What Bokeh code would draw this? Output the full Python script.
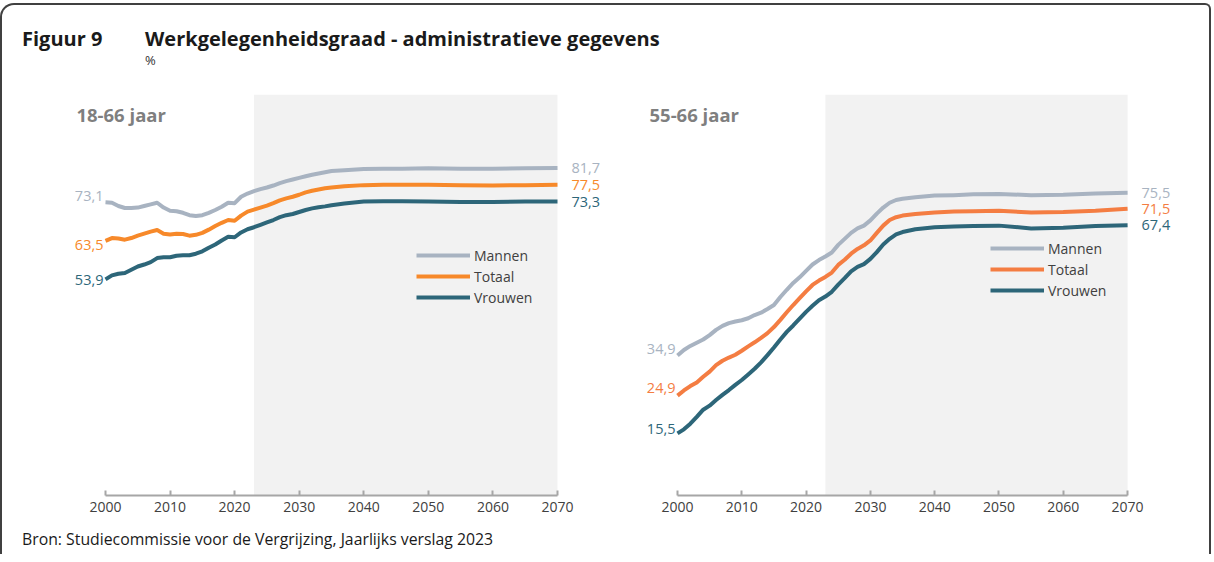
from bokeh.plotting import figure
from bokeh.models import (ColumnDataSource, LabelSet, Label, BoxAnnotation, Range1d,
                          Legend, LegendItem, Div, FixedTicker)
from bokeh.core.properties import value
from bokeh.layouts import column, row
from bokeh.embed import file_html
from bokeh.resources import INLINE

# ---------------- data ----------------
years = [2000, 2001, 2002, 2003, 2004, 2005, 2006, 2007, 2008, 2009,
         2010, 2011, 2012, 2013, 2014, 2015, 2016, 2017, 2018, 2019,
         2020, 2021, 2022, 2023, 2024, 2025, 2026, 2027, 2028, 2029,
         2030, 2031, 2032, 2033, 2034, 2035, 2037, 2040, 2043, 2046,
         2050, 2055, 2060, 2065, 2070]

# 18-66 jaar
l_mannen = [73.1, 73.0, 72.2, 71.7, 71.7, 71.8, 72.2, 72.6, 73.0, 71.8,
            71.0, 70.9, 70.5, 69.9, 69.7, 69.9, 70.5, 71.2, 72.0, 73.0,
            72.9, 74.5, 75.3, 75.9, 76.4, 76.8, 77.3, 77.9, 78.4, 78.8,
            79.2, 79.6, 80.0, 80.3, 80.6, 80.9, 81.1, 81.4, 81.5, 81.5,
            81.6, 81.5, 81.5, 81.6, 81.7]
l_totaal = [63.5, 64.2, 64.1, 63.8, 64.2, 64.8, 65.3, 65.8, 66.2, 65.3,
            65.1, 65.3, 65.2, 64.8, 65.0, 65.5, 66.3, 67.2, 68.0, 68.7,
            68.5, 69.8, 70.8, 71.3, 71.8, 72.3, 72.9, 73.6, 74.1, 74.5,
            75.0, 75.6, 76.0, 76.3, 76.6, 76.8, 77.1, 77.4, 77.5, 77.5,
            77.5, 77.4, 77.3, 77.4, 77.5]
l_vrouwen = [53.9, 54.9, 55.3, 55.5, 56.3, 57.1, 57.6, 58.2, 59.2, 59.4,
             59.4, 59.8, 59.9, 59.9, 60.3, 60.9, 61.8, 62.6, 63.6, 64.5,
             64.4, 65.6, 66.4, 66.9, 67.5, 68.1, 68.7, 69.4, 69.9, 70.2,
             70.7, 71.2, 71.6, 71.9, 72.1, 72.4, 72.8, 73.3, 73.4, 73.4,
             73.3, 73.2, 73.2, 73.3, 73.3]

# 55-66 jaar
r_mannen = [34.9, 36.3, 37.3, 38.1, 38.9, 40.0, 41.3, 42.3, 43.0, 43.4,
            43.7, 44.2, 45.0, 45.6, 46.5, 47.5, 49.5, 51.3, 53.0, 54.4,
            56.0, 57.6, 58.7, 59.6, 60.6, 62.5, 64.0, 65.5, 66.6, 67.3,
            68.6, 70.3, 71.8, 73.0, 73.7, 74.0, 74.4, 74.8, 74.9, 75.1,
            75.2, 74.9, 75.0, 75.3, 75.5]
r_totaal = [24.9, 26.2, 27.3, 28.2, 29.6, 30.9, 32.5, 33.6, 34.4, 35.1,
            36.1, 37.2, 38.2, 39.3, 40.5, 42.0, 43.8, 45.7, 47.5, 49.2,
            50.9, 52.5, 53.6, 54.5, 55.6, 57.5, 58.8, 60.3, 61.5, 62.4,
            63.6, 65.5, 67.3, 68.7, 69.4, 69.8, 70.2, 70.6, 70.8, 70.9,
            71.0, 70.6, 70.7, 71.0, 71.5]
r_vrouwen = [15.5, 16.5, 17.9, 19.6, 21.4, 22.4, 23.8, 25.1, 26.3, 27.6,
             28.8, 30.2, 31.6, 33.2, 35.0, 36.9, 38.9, 40.8, 42.4, 44.1,
             45.8, 47.3, 48.7, 49.6, 50.8, 52.6, 54.2, 55.9, 57.0, 57.7,
             59.0, 60.7, 62.6, 64.0, 65.1, 65.7, 66.4, 66.9, 67.1, 67.2,
             67.3, 66.6, 66.8, 67.2, 67.4]

series_names = ["Mannen", "Totaal", "Vrouwen"]
x_ticks = [2000, 2010, 2020, 2030, 2040, 2050, 2060, 2070]
projection_start = 2023

# ---------------- style ----------------
FONT = "Open Sans"
GREY = "#A8B3C1"
TEAL = "#2D6679"
ORANGE_L = "#F7892A"
ORANGE_R = "#F47D42"


def fmt(v):
    return f"{v:.1f}".replace(".", ",")


def make_chart(subtitle, sub_x, data, colors, width, x_start, x_end,
               legend_loc, start_yoff, end_yoff):
    p = figure(width=width, height=455, x_range=Range1d(x_start, x_end),
               y_range=Range1d(0, 100), output_backend="svg",
               toolbar_location=None, y_axis_location=None,
               min_border_left=0, min_border_right=0,
               min_border_top=25, min_border_bottom=29)
    p.outline_line_color = None
    p.grid.visible = False
    p.background_fill_color = "white"
    p.border_fill_color = "white"

    p.add_layout(BoxAnnotation(left=projection_start, right=years[-1],
                               bottom=0, top=100,
                               fill_color="#F2F2F2", fill_alpha=1,
                               line_color=None, level="underlay"))

    renderers = []
    for vals, col in zip(data, colors):
        r = p.line(years, vals, line_color=col, line_width=4,
                   line_join="round", line_cap="butt")
        renderers.append(r)

    # value labels at start and end
    src = ColumnDataSource(dict(
        x=[years[0]] * 3 + [years[-1]] * 3,
        y=[d[0] for d in data] + [d[-1] for d in data],
        text=[fmt(d[0]) for d in data] + [fmt(d[-1]) for d in data],
        color=list(colors) * 2,
        xoff=[-2] * 3 + [14] * 3,
        yoff=list(start_yoff) + list(end_yoff),
        align=["right"] * 3 + ["left"] * 3,
    ))
    p.add_layout(LabelSet(x="x", y="y", text="text", source=src,
                          text_color="color", x_offset="xoff", y_offset="yoff",
                          text_align="align", text_baseline="middle",
                          text_font=value(FONT), text_font_size=value("14.5px")))

    p.add_layout(Label(x=sub_x, y=95, text=subtitle, text_font=FONT,
                       text_font_size="18.5px", text_font_style="bold",
                       text_color="#7F7F7F", text_baseline="middle"))

    legend = Legend(items=[LegendItem(label=n, renderers=[r])
                           for n, r in zip(series_names, renderers)],
                    location=legend_loc, glyph_width=54, glyph_height=20,
                    label_height=20, spacing=1, padding=0, margin=0,
                    border_line_color=None, background_fill_alpha=0,
                    label_standoff=4, label_text_font=FONT,
                    label_text_font_size="14px", label_text_color="#404040")
    p.add_layout(legend)

    ax = p.xaxis[0]
    ax.ticker = FixedTicker(ticks=x_ticks)
    ax.bounds = (years[0], years[-1])
    ax.axis_line_color = "#A6A6A6"
    ax.axis_line_width = 2
    ax.major_tick_line_color = "#A6A6A6"
    ax.major_tick_line_width = 2
    ax.major_tick_in = 5
    ax.major_tick_out = 0
    ax.minor_tick_line_color = None
    ax.major_label_standoff = 6
    ax.major_label_text_font = FONT
    ax.major_label_text_font_size = "14px"
    ax.major_label_text_color = "#404040"
    return p


# frame geometry: 2000 -> 106px / 2070 -> 558px (left), 2000 -> 678px / 2070 -> 1128px (right)
p1 = make_chart("18-66 jaar", 1995.5, [l_mannen, l_totaal, l_vrouwen],
                [GREY, ORANGE_L, TEAL], 604, 1984.05, 2077.59, (414, 188),
                [6, -4, -1], [0, 0, 0])
p2 = make_chart("55-66 jaar", 1995.65, [r_mannen, r_totaal, r_vrouwen],
                [GREY, ORANGE_R, TEAL], 603, 1988.96, 2082.74, (384, 195),
                [7, 8, 4], [0, 0, 0])

title_html = (
    '<div style="padding:20px 0 0 20px;font-family:\'Open Sans\';'
    'color:#1a1a1a;white-space:nowrap;">'
    '<div style="font-size:20px;font-weight:bold;line-height:27px;">'
    '<span style="display:inline-block;width:123px;">Figuur 9</span>'
    '<span>Werkgelegenheidsgraad - administratieve gegevens</span></div>'
    '<div style="font-size:13px;line-height:16px;padding-left:123px;'
    'color:#333;">%</div>'
    '</div>')
title_div = Div(text=title_html, width=1207, height=64, margin=0)

source_html = (
    '<div style="padding:5px 0 0 20px;font-family:\'Open Sans\';'
    'font-size:15.8px;line-height:21px;color:#1a1a1a;white-space:nowrap;">'
    'Bron: Studiecommissie voor de Vergrijzing, Jaarlijks verslag 2023</div>')
source_div = Div(text=source_html, width=1207, height=30, margin=0)

layout = column(title_div, row(p1, p2, spacing=0), source_div, spacing=0,
                margin=(3, 0, 0, 0),
                styles={"border-top": "2px solid #404040",
                        "border-left": "2px solid #404040",
                        "border-right": "2px solid #404040",
                        "border-top-left-radius": "14px",
                        "border-top-right-radius": "6px"})

open("out.html", "w").write(file_html(layout, INLINE))
